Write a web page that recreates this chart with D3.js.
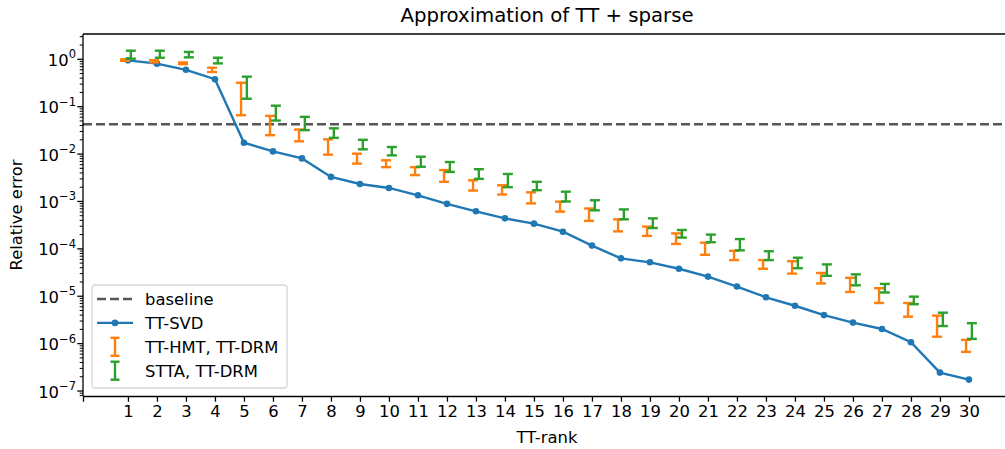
<!DOCTYPE html>
<html>
<head>
<meta charset="utf-8">
<script src="https://cdn.jsdelivr.net/npm/d3@7"></script>
<style>
  body { margin: 0; background: #fff; }
  svg text { font-family: "DejaVu Sans", sans-serif; fill: #000; }
</style>
</head>
<body>
<svg id="chart" width="1005" height="449"></svg>
<script>
// TT-rank values on the x axis
const ranks = d3.range(1, 31);

// relative error of TT-SVD
const svdError = [0.95, 0.81, 0.60, 0.38, 0.0174, 0.0114, 0.0081, 0.0033, 0.00234, 0.00193,
  0.00135, 0.00089, 0.00062, 0.00044, 0.00034, 0.00023, 0.000117, 6.3e-5, 5.2e-5, 3.8e-5,
  2.6e-5, 1.6e-5, 9.5e-6, 6.3e-6, 4.0e-6, 2.78e-6, 2.04e-6, 1.07e-6, 2.45e-7, 1.74e-7];

// TT-HMT, TT-DRM error ranges (low / high)
const hmtLow = [0.93, 0.86, 0.79, 0.54, 0.066, 0.025, 0.0186, 0.0097, 0.0063, 0.0053,
  0.0036, 0.0026, 0.0017, 0.0014, 0.00091, 0.00061, 0.00039, 0.000234, 0.000188, 0.000127,
  7.5e-5, 5.8e-5, 3.8e-5, 3.0e-5, 1.86e-5, 1.23e-5, 7.2e-6, 3.7e-6, 1.4e-6, 6.7e-7];
const hmtHigh = [1.0, 0.96, 0.86, 0.665, 0.32, 0.064, 0.033, 0.0205, 0.0102, 0.0074,
  0.0053, 0.0046, 0.0028, 0.0022, 0.00156, 0.00099, 0.00071, 0.00042, 0.000295, 0.000212,
  0.000135, 9.1e-5, 5.8e-5, 5.5e-5, 3.1e-5, 2.45e-5, 1.48e-5, 7.2e-6, 3.9e-6, 1.2e-6];

// STTA, TT-DRM error ranges (low / high)
const sttaLow = [1.03, 1.08, 1.1, 0.82, 0.147, 0.051, 0.032, 0.022, 0.0126, 0.0094,
  0.0054, 0.0042, 0.0030, 0.0020, 0.00173, 0.00100, 0.00065, 0.00042, 0.000275, 0.000173,
  0.000138, 9.3e-5, 5.8e-5, 3.9e-5, 2.7e-5, 1.7e-5, 1.2e-5, 6.8e-6, 2.35e-6, 1.26e-6];
const sttaHigh = [1.52, 1.52, 1.43, 1.08, 0.43, 0.105, 0.061, 0.035, 0.020, 0.0141,
  0.0088, 0.0068, 0.0048, 0.0038, 0.0026, 0.00161, 0.00106, 0.00068, 0.00044, 0.000250,
  0.0002, 0.000161, 8.9e-5, 6.5e-5, 4.7e-5, 2.9e-5, 1.82e-5, 9.8e-6, 4.5e-6, 2.7e-6];

const baseline = 0.0426;
const yExponents = [0, -1, -2, -3, -4, -5, -6, -7];
const legendLabels = ['baseline', 'TT-SVD', 'TT-HMT, TT-DRM', 'STTA, TT-DRM'];

const blue = '#1f77b4', orange = '#ff7f0e', green = '#2ca02c';
const fs = 16.4;      // tick / label font size
const lw = 2.4;       // data line width

const margin = { left: 83, top: 34, right: 1011, bottom: 396 };
const svg = d3.select('#chart');

const x = d3.scaleLinear().domain([-0.55, 31.45]).range([margin.left, margin.right]);
const y = d3.scaleLog().domain([7.85e-8, 3.42]).range([margin.bottom, margin.top]);

// clip for plotted data
svg.append('clipPath').attr('id', 'plotclip')
  .append('rect')
  .attr('x', margin.left).attr('y', margin.top)
  .attr('width', margin.right - margin.left).attr('height', margin.bottom - margin.top);

const plot = svg.append('g').attr('clip-path', 'url(#plotclip)');

// baseline (dashed)
plot.append('line')
  .attr('x1', margin.left).attr('x2', margin.right)
  .attr('y1', y(baseline)).attr('y2', y(baseline))
  .attr('stroke', '#444').attr('stroke-opacity', 0.9)
  .attr('stroke-width', lw).attr('stroke-dasharray', '9,4');

// TT-SVD line + markers
const line = d3.line().x((d, i) => x(ranks[i])).y(d => y(d));
plot.append('path').datum(svdError)
  .attr('d', line).attr('fill', 'none')
  .attr('stroke', blue).attr('stroke-width', lw);
plot.selectAll('circle.svd').data(svdError).enter().append('circle')
  .attr('class', 'svd')
  .attr('cx', (d, i) => x(ranks[i])).attr('cy', d => y(d))
  .attr('r', 3.3).attr('fill', blue);

// error bars
function drawErrorBars(low, high, offset, color) {
  const g = plot.append('g').attr('stroke', color).attr('stroke-width', lw).attr('fill', 'none');
  ranks.forEach((r, i) => {
    const cx = x(r + offset);
    g.append('line').attr('x1', cx).attr('x2', cx).attr('y1', y(low[i])).attr('y2', y(high[i]));
    g.append('line').attr('x1', cx - 5).attr('x2', cx + 5).attr('y1', y(low[i])).attr('y2', y(low[i]));
    g.append('line').attr('x1', cx - 5).attr('x2', cx + 5).attr('y1', y(high[i])).attr('y2', y(high[i]));
  });
}
drawErrorBars(hmtLow, hmtHigh, -0.1, orange);
drawErrorBars(sttaLow, sttaHigh, 0.1, green);

// x axis
const xAxis = svg.append('g')
  .attr('transform', `translate(0,${margin.bottom})`)
  .call(d3.axisBottom(x).tickValues(ranks).tickFormat(d3.format('d')).tickSize(5.7).tickPadding(4));
xAxis.select('.domain').attr('stroke-width', 1.3);
xAxis.selectAll('.tick line').attr('stroke-width', 1.3);
xAxis.selectAll('.tick text').attr('font-size', fs).attr('font-family', 'DejaVu Sans');

// y axis: major ticks with superscript labels, minor ticks
const yAxis = svg.append('g').attr('transform', `translate(${margin.left},0)`);
yAxis.append('line')
  .attr('x1', 0).attr('x2', 0).attr('y1', margin.top).attr('y2', margin.bottom)
  .attr('stroke', '#000').attr('stroke-width', 1.3);

const minorTicks = [];
for (let e = -8; e <= 0; e++) {
  for (let k = 2; k <= 9; k++) {
    const v = k * Math.pow(10, e);
    if (v >= y.domain()[0] && v <= y.domain()[1]) minorTicks.push(v);
  }
}
yAxis.selectAll('line.minor').data(minorTicks).enter().append('line')
  .attr('class', 'minor')
  .attr('x1', -3.3).attr('x2', 0)
  .attr('y1', d => y(d)).attr('y2', d => y(d))
  .attr('stroke', '#000').attr('stroke-width', 1);

yAxis.selectAll('line.major').data(yExponents).enter().append('line')
  .attr('class', 'major')
  .attr('x1', -5.7).attr('x2', 0)
  .attr('y1', d => y(Math.pow(10, d))).attr('y2', d => y(Math.pow(10, d)))
  .attr('stroke', '#000').attr('stroke-width', 1.3);

const yLabels = yAxis.selectAll('text.ylab').data(yExponents).enter().append('text')
  .attr('class', 'ylab')
  .attr('x', -7).attr('y', d => y(Math.pow(10, d)) + 6.5)
  .attr('text-anchor', 'end').attr('font-size', fs);
yLabels.append('tspan').text('10');
yLabels.append('tspan').attr('dy', -7.5).attr('font-size', 11.5)
  .text(d => d === 0 ? '0' : '\u2212' + Math.abs(d));

// top spine
svg.append('line')
  .attr('x1', margin.left).attr('x2', margin.right)
  .attr('y1', margin.top).attr('y2', margin.top)
  .attr('stroke', '#000').attr('stroke-width', 1.3);

// title and axis labels
svg.append('text').attr('x', 547).attr('y', 22)
  .attr('text-anchor', 'middle').attr('font-size', 19.7)
  .text('Approximation of TT + sparse');
svg.append('text').attr('x', 547).attr('y', 443)
  .attr('text-anchor', 'middle').attr('font-size', fs)
  .text('TT-rank');
svg.append('text')
  .attr('transform', `translate(22,${(margin.top + margin.bottom) / 2}) rotate(-90)`)
  .attr('text-anchor', 'middle').attr('font-size', fs)
  .text('Relative error');

// legend
const legend = svg.append('g').attr('transform', 'translate(92,285)');
legend.append('rect')
  .attr('width', 195).attr('height', 103).attr('rx', 3)
  .attr('fill', '#fff').attr('fill-opacity', 0.8)
  .attr('stroke', '#d6d6d6').attr('stroke-width', 1.3);

const rowY = i => 14 + i * 23.9;
legend.append('line')
  .attr('x1', 5).attr('x2', 41).attr('y1', rowY(0)).attr('y2', rowY(0))
  .attr('stroke', '#444').attr('stroke-opacity', 0.9)
  .attr('stroke-width', lw).attr('stroke-dasharray', '9,4');
legend.append('line')
  .attr('x1', 5).attr('x2', 41).attr('y1', rowY(1)).attr('y2', rowY(1))
  .attr('stroke', blue).attr('stroke-width', lw);
legend.append('circle').attr('cx', 23).attr('cy', rowY(1)).attr('r', 3.3).attr('fill', blue);
[orange, green].forEach((c, j) => {
  const cy = rowY(2 + j);
  const g = legend.append('g').attr('stroke', c).attr('stroke-width', lw);
  g.append('line').attr('x1', 23).attr('x2', 23).attr('y1', cy - 9).attr('y2', cy + 9);
  g.append('line').attr('x1', 18.5).attr('x2', 27.5).attr('y1', cy - 9).attr('y2', cy - 9);
  g.append('line').attr('x1', 18.5).attr('x2', 27.5).attr('y1', cy + 9).attr('y2', cy + 9);
});
legend.selectAll('text.leg').data(legendLabels).enter().append('text')
  .attr('class', 'leg')
  .attr('x', 53).attr('y', (d, i) => rowY(i) + 6)
  .attr('font-size', fs)
  .text(d => d);
</script>
</body>
</html>
